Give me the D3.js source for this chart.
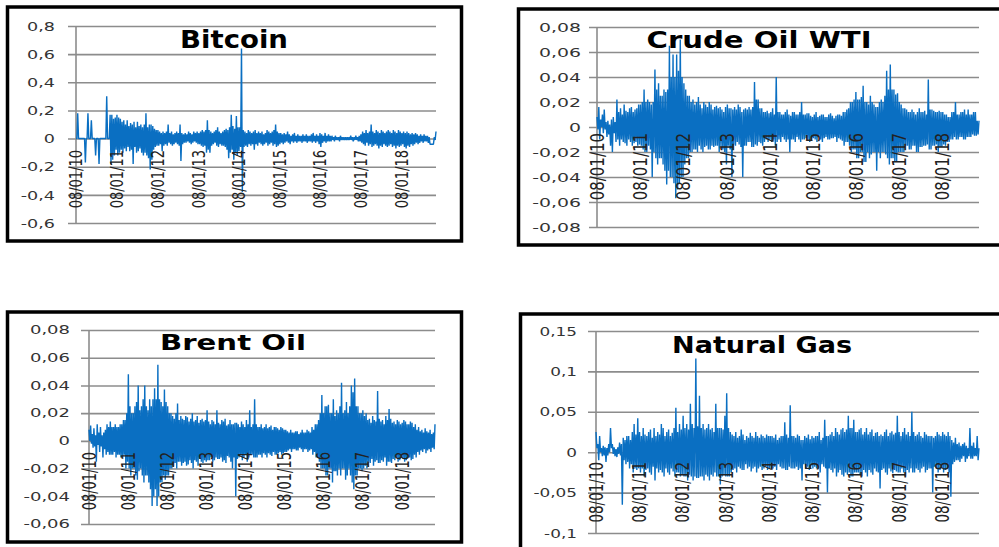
<!DOCTYPE html>
<html>
<head>
<meta charset="utf-8">
<script src="https://cdn.jsdelivr.net/npm/d3@7"></script>
<style>
  body { margin: 0; background: #fff; }
  svg { display: block; }
</style>
</head>
<body>
<svg id="chart" width="999" height="547"></svg>
<script>
// Daily returns, summarised per half-month as the highest and lowest return
// of the period, 08/01/2010 to late 2018
const startDate = new Date(2010, 0, 8);
const endDate = new Date(2018, 10, 15);
const yearTicks = d3.range(2010, 2019).map(y => new Date(y, 0, 8));

const bitcoinHigh = [
  0, 0.18, 0, 0, 0, 0, 0, 0.18, 0, 0.13, 0, 0, 0, 0, 0, 0, 0, 0, 0.30, 0, 0.17, 0.17, 0.14, 0.15,
  0.17, 0.15, 0.14, 0.12, 0.13, 0.1, 0.13, 0.09, 0.11, 0.1, 0.12, 0.08, 0.12, 0.09, 0.1, 0.08, 0.1, 0.18, 0.08, 0.1, 0.1, 0.09, 0.07, 0.06,
  0.06, 0.05, 0.04, 0.05, 0.04, 0.05, 0.1, 0.04, 0.05, 0.03, 0.04, 0.05, 0.04, 0.1, 0.04, 0.03, 0.04, 0.03, 0.05, 0.04, 0.03, 0.05, 0.04, 0.05,
  0.04, 0.05, 0.06, 0.05, 0.06, 0.13, 0.06, 0.05, 0.04, 0.05, 0.06, 0.08, 0.05, 0.04, 0.05, 0.06, 0.07, 0.06, 0.08, 0.17, 0.09, 0.07, 0.16, 0.08,
  0.08, 0.64, 0.06, 0.05, 0.04, 0.06, 0.05, 0.04, 0.05, 0.06, 0.04, 0.05, 0.04, 0.05, 0.03, 0.04, 0.06, 0.05, 0.04, 0.05, 0.06, 0.1, 0.05, 0.04,
  0.04, 0.03, 0.04, 0.03, 0.05, 0.03, 0.02, 0.03, 0.04, 0.02, 0.03, 0.02, 0.02, 0.03, 0.02, 0.03, 0.02, 0.02, 0.03, 0.04, 0.02, 0.03, 0.02, 0.04,
  0.03, 0.02, 0.04, 0.02, 0.03, 0.02, 0.02, 0.01, 0.02, 0.01, 0.01, 0.02, 0.01, 0.01, 0.01, 0.01, 0.01, 0.02, 0.01, 0.01, 0.02, 0.01, 0.02, 0.03,
  0.05, 0.04, 0.06, 0.04, 0.05, 0.1, 0.05, 0.04, 0.06, 0.05, 0.04, 0.06, 0.05, 0.04, 0.05, 0.06, 0.05, 0.04, 0.06, 0.05, 0.04, 0.06, 0.05, 0.04,
  0.05, 0.04, 0.05, 0.04, 0.03, 0.04, 0.03, 0.04, 0.03, 0.02, 0.03, 0.02, 0.03, 0.02, 0.02, 0.01, -0.04, -0.04, 0.01, 0.05
];
const bitcoinLow = [
  0, 0, 0, 0, 0, -0.17, 0, 0, 0, 0, 0, -0.12, 0, -0.18, 0, 0, 0, 0, 0, 0, -0.18, -0.15, -0.12, -0.08,
  -0.12, -0.1, -0.08, -0.1, -0.07, -0.09, -0.06, -0.09, -0.08, -0.18, -0.06, -0.1, -0.09, -0.07, -0.1, -0.12, -0.1, -0.12, -0.14, -0.22, -0.15, -0.08, -0.06, -0.05,
  -0.05, -0.04, -0.09, -0.05, -0.04, -0.05, -0.03, -0.04, -0.05, -0.04, -0.03, -0.04, -0.05, -0.16, -0.04, -0.03, -0.03, -0.02, -0.03, -0.04, -0.03, -0.02, -0.03, -0.04,
  -0.04, -0.05, -0.06, -0.05, -0.1, -0.08, -0.1, -0.05, -0.04, -0.03, -0.05, -0.06, -0.04, -0.05, -0.05, -0.06, -0.08, -0.14, -0.1, -0.08, -0.15, -0.1, -0.12, -0.09,
  -0.06, -0.38, -0.06, -0.05, -0.06, -0.04, -0.05, -0.04, -0.08, -0.04, -0.05, -0.03, -0.04, -0.05, -0.04, -0.03, -0.05, -0.04, -0.03, -0.05, -0.04, -0.06, -0.05, -0.04,
  -0.03, -0.04, -0.03, -0.02, -0.03, -0.04, -0.02, -0.03, -0.02, -0.03, -0.02, -0.02, -0.03, -0.02, -0.02, -0.03, -0.02, -0.02, -0.03, -0.02, -0.03, -0.02, -0.04, -0.06,
  -0.03, -0.02, -0.03, -0.02, -0.02, -0.02, -0.01, -0.02, -0.01, -0.01, -0.02, -0.01, -0.01, -0.01, -0.01, -0.01, -0.01, -0.01, -0.02, -0.01, -0.01, -0.02, -0.02, -0.03,
  -0.04, -0.05, -0.03, -0.05, -0.04, -0.06, -0.05, -0.04, -0.05, -0.07, -0.05, -0.06, -0.04, -0.05, -0.06, -0.05, -0.04, -0.06, -0.05, -0.07, -0.05, -0.06, -0.05, -0.04,
  -0.06, -0.07, -0.05, -0.06, -0.04, -0.05, -0.04, -0.03, -0.04, -0.03, -0.02, -0.03, -0.02, -0.02, -0.03, -0.04, -0.04, -0.04, -0.01, 0
];

const wtiHigh = [
  0.008, 0.016, 0.006, 0.01, 0.014, 0.004, 0.005, 0.002, 0.006, 0.008, 0.004, 0.022, 0.012, 0.015, 0.01, 0.018, 0.013, 0.012, 0.015, 0.016, 0.012, 0.014, 0.015, 0.018,
  0.018, 0.02, 0.03, 0.02, 0.022, 0.02, 0.018, 0.02, 0.046, 0.03, 0.035, 0.025, 0.025, 0.03, 0.028, 0.03, 0.065, 0.04, 0.058, 0.04, 0.058, 0.045, 0.07, 0.04,
  0.035, 0.03, 0.025, 0.025, 0.02, 0.022, 0.018, 0.02, 0.024, 0.018, 0.015, 0.02, 0.018, 0.016, 0.02, 0.018, 0.014, 0.016, 0.017, 0.015, 0.016, 0.014, 0.012, 0.016,
  0.018, 0.015, 0.015, 0.014, 0.016, 0.014, 0.018, 0.016, 0.012, 0.014, 0.015, 0.014, 0.016, 0.014, 0.016, 0.036, 0.022, 0.022, 0.015, 0.015, 0.012, 0.012, 0.013, 0.011,
  0.012, 0.015, 0.01, 0.04, 0.012, 0.012, 0.01, 0.01, 0.012, 0.014, 0.01, 0.009, 0.012, 0.012, 0.01, 0.01, 0.012, 0.02, 0.01, 0.01, 0.011, 0.011, 0.009, 0.008,
  0.01, 0.012, 0.008, 0.009, 0.01, 0.01, 0.008, 0.008, 0.01, 0.011, 0.009, 0.007, 0.009, 0.01, 0.01, 0.009, 0.012, 0.012, 0.014, 0.015, 0.02, 0.02, 0.022, 0.028,
  0.022, 0.022, 0.024, 0.033, 0.02, 0.02, 0.018, 0.025, 0.02, 0.018, 0.016, 0.016, 0.02, 0.022, 0.02, 0.025, 0.045, 0.03, 0.05, 0.03, 0.03, 0.026, 0.027, 0.02,
  0.018, 0.015, 0.015, 0.014, 0.012, 0.012, 0.014, 0.012, 0.01, 0.012, 0.015, 0.012, 0.012, 0.013, 0.01, 0.038, 0.014, 0.014, 0.013, 0.012, 0.012, 0.013, 0.012, 0.012,
  0.01, 0.01, 0.008, 0.008, 0.012, 0.012, 0.02, 0.01, 0.01, 0.012, 0.012, 0.014, 0.01, 0.014, 0.01, 0.01, 0.012, 0.012, 0.005, 0.005
];
const wtiLow = [
  -0.002, -0.01, 0, -0.005, -0.002, -0.008, -0.006, -0.015, -0.02, -0.005, -0.012, -0.01, -0.015, -0.01, -0.012, -0.013, -0.015, -0.01, -0.012, -0.015, -0.013, -0.012, -0.015, -0.014,
  -0.015, -0.018, -0.02, -0.02, -0.015, -0.018, -0.04, -0.02, -0.025, -0.03, -0.025, -0.025, -0.03, -0.035, -0.046, -0.035, -0.04, -0.04, -0.045, -0.057, -0.05, -0.045, -0.04, -0.04,
  -0.03, -0.025, -0.025, -0.02, -0.02, -0.018, -0.018, -0.02, -0.015, -0.018, -0.02, -0.016, -0.015, -0.018, -0.018, -0.015, -0.016, -0.015, -0.015, -0.02, -0.016, -0.018, -0.02, -0.03,
  -0.015, -0.018, -0.04, -0.014, -0.015, -0.012, -0.014, -0.016, -0.04, -0.015, -0.015, -0.012, -0.012, -0.016, -0.016, -0.014, -0.015, -0.012, -0.013, -0.015, -0.012, -0.01, -0.012, -0.01,
  -0.012, -0.01, -0.015, -0.012, -0.01, -0.012, -0.008, -0.01, -0.012, -0.01, -0.02, -0.01, -0.01, -0.012, -0.008, -0.01, -0.012, -0.01, -0.01, -0.009, -0.01, -0.012, -0.01, -0.009,
  -0.01, -0.012, -0.008, -0.01, -0.012, -0.009, -0.008, -0.01, -0.01, -0.009, -0.009, -0.008, -0.012, -0.009, -0.01, -0.011, -0.015, -0.012, -0.012, -0.015, -0.02, -0.018, -0.018, -0.025,
  -0.025, -0.02, -0.02, -0.028, -0.028, -0.02, -0.025, -0.022, -0.02, -0.02, -0.035, -0.02, -0.025, -0.02, -0.02, -0.022, -0.025, -0.03, -0.025, -0.025, -0.028, -0.028, -0.02, -0.02,
  -0.02, -0.02, -0.015, -0.015, -0.018, -0.018, -0.015, -0.015, -0.02, -0.02, -0.016, -0.016, -0.015, -0.015, -0.014, -0.018, -0.018, -0.015, -0.015, -0.014, -0.02, -0.016, -0.016, -0.014,
  -0.015, -0.012, -0.012, -0.01, -0.01, -0.008, -0.01, -0.01, -0.008, -0.008, -0.01, -0.01, -0.008, -0.008, -0.008, -0.006, -0.007, -0.007, -0.006, -0.005
];

const brentHigh = [
  0.008, 0.011, 0.005, 0.009, 0.004, 0.012, 0.006, 0.01, 0.004, 0.006, 0.008, 0.012, 0.01, 0.014, 0.01, 0.01, 0.012, 0.01, 0.01, 0.012, 0.012, 0.015, 0.015, 0.02,
  0.048, 0.025, 0.02, 0.02, 0.025, 0.028, 0.04, 0.022, 0.025, 0.03, 0.04, 0.025, 0.022, 0.03, 0.025, 0.03, 0.038, 0.03, 0.055, 0.03, 0.028, 0.025, 0.037, 0.028,
  0.025, 0.02, 0.02, 0.018, 0.016, 0.02, 0.027, 0.015, 0.018, 0.016, 0.015, 0.018, 0.017, 0.014, 0.016, 0.02, 0.014, 0.015, 0.018, 0.013, 0.015, 0.016, 0.014, 0.015,
  0.022, 0.014, 0.012, 0.015, 0.014, 0.012, 0.022, 0.013, 0.012, 0.015, 0.014, 0.016, 0.011, 0.012, 0.015, 0.012, 0.012, 0.013, 0.013, 0.012, 0.01, 0.014, 0.012, 0.01,
  0.015, 0.012, 0.022, 0.01, 0.012, 0.03, 0.012, 0.01, 0.01, 0.012, 0.009, 0.01, 0.012, 0.009, 0.01, 0.011, 0.008, 0.01, 0.01, 0.009, 0.008, 0.01, 0.009, 0.008,
  0.008, 0.007, 0.006, 0.008, 0.006, 0.006, 0.007, 0.007, 0.005, 0.006, 0.008, 0.006, 0.006, 0.008, 0.007, 0.006, 0.01, 0.008, 0.012, 0.012, 0.015, 0.02, 0.033, 0.02,
  0.025, 0.025, 0.026, 0.02, 0.02, 0.03, 0.018, 0.022, 0.02, 0.025, 0.042, 0.02, 0.022, 0.028, 0.02, 0.025, 0.04, 0.035, 0.045, 0.025, 0.025, 0.02, 0.02, 0.022,
  0.018, 0.02, 0.015, 0.016, 0.013, 0.018, 0.015, 0.014, 0.036, 0.016, 0.014, 0.015, 0.012, 0.018, 0.015, 0.023, 0.016, 0.013, 0.014, 0.012, 0.015, 0.014, 0.012, 0.013,
  0.015, 0.014, 0.012, 0.012, 0.014, 0.013, 0.01, 0.012, 0.008, 0.01, 0.007, 0.008, 0.006, 0.009, 0.007, 0.006, 0.008, 0.005, 0.006, 0.012
];
const brentLow = [
  0, -0.002, -0.005, -0.004, -0.015, -0.003, -0.008, -0.004, -0.012, -0.006, -0.01, -0.008, -0.01, -0.01, -0.01, -0.008, -0.012, -0.01, -0.01, -0.012, -0.012, -0.01, -0.02, -0.015,
  -0.02, -0.025, -0.02, -0.02, -0.025, -0.028, -0.022, -0.02, -0.025, -0.03, -0.025, -0.025, -0.03, -0.035, -0.047, -0.04, -0.035, -0.047, -0.04, -0.03, -0.03, -0.025, -0.028, -0.025,
  -0.025, -0.02, -0.02, -0.018, -0.016, -0.02, -0.015, -0.015, -0.018, -0.016, -0.015, -0.018, -0.017, -0.014, -0.016, -0.02, -0.014, -0.015, -0.018, -0.013, -0.015, -0.016, -0.014, -0.015,
  -0.014, -0.014, -0.012, -0.015, -0.014, -0.012, -0.013, -0.013, -0.012, -0.015, -0.014, -0.016, -0.011, -0.012, -0.015, -0.02, -0.012, -0.04, -0.013, -0.012, -0.01, -0.014, -0.012, -0.01,
  -0.015, -0.012, -0.01, -0.01, -0.012, -0.012, -0.012, -0.01, -0.01, -0.012, -0.009, -0.01, -0.012, -0.009, -0.01, -0.011, -0.008, -0.01, -0.01, -0.009, -0.008, -0.01, -0.009, -0.008,
  -0.008, -0.007, -0.006, -0.008, -0.006, -0.006, -0.007, -0.007, -0.005, -0.006, -0.008, -0.006, -0.006, -0.008, -0.007, -0.006, -0.01, -0.008, -0.012, -0.012, -0.015, -0.02, -0.02, -0.02,
  -0.025, -0.025, -0.02, -0.02, -0.03, -0.022, -0.022, -0.025, -0.02, -0.025, -0.02, -0.02, -0.028, -0.025, -0.02, -0.025, -0.03, -0.035, -0.025, -0.025, -0.02, -0.02, -0.022, -0.02,
  -0.018, -0.02, -0.015, -0.016, -0.013, -0.018, -0.015, -0.014, -0.016, -0.016, -0.014, -0.015, -0.012, -0.018, -0.015, -0.015, -0.016, -0.013, -0.014, -0.012, -0.015, -0.014, -0.012, -0.013,
  -0.015, -0.014, -0.012, -0.012, -0.014, -0.013, -0.01, -0.012, -0.008, -0.01, -0.007, -0.008, -0.006, -0.009, -0.007, -0.006, -0.008, -0.005, -0.006, -0.004
];

const gasHigh = [
  0.025, 0.01, 0.02, 0.005, 0.008, 0.006, 0.005, 0.01, 0.03, 0.01, 0.006, 0.004, 0.006, 0.012, 0.01, 0.018, 0.015, 0.02, 0.02, 0.015, 0.025, 0.035, 0.022, 0.042,
  0.025, 0.02, 0.03, 0.022, 0.02, 0.025, 0.028, 0.018, 0.03, 0.02, 0.025, 0.022, 0.035, 0.03, 0.02, 0.025, 0.028, 0.02, 0.024, 0.03, 0.055, 0.025, 0.035, 0.028,
  0.045, 0.03, 0.035, 0.028, 0.06, 0.035, 0.03, 0.116, 0.032, 0.07, 0.03, 0.035, 0.028, 0.03, 0.035, 0.028, 0.03, 0.025, 0.06, 0.03, 0.03, 0.03, 0.028, 0.045,
  0.073, 0.03, 0.025, 0.022, 0.02, 0.025, 0.018, 0.02, 0.028, 0.022, 0.015, 0.02, 0.018, 0.024, 0.02, 0.018, 0.025, 0.02, 0.018, 0.022, 0.02, 0.018, 0.022, 0.02,
  0.02, 0.02, 0.018, 0.022, 0.015, 0.018, 0.02, 0.02, 0.037, 0.022, 0.018, 0.058, 0.02, 0.02, 0.018, 0.022, 0.02, 0.015, 0.015, 0.02, 0.018, 0.022, 0.016, 0.02,
  0.018, 0.02, 0.02, 0.025, 0.015, 0.018, 0.04, 0.02, 0.02, 0.022, 0.025, 0.02, 0.03, 0.025, 0.022, 0.028, 0.03, 0.025, 0.028, 0.045, 0.03, 0.03, 0.04, 0.025,
  0.025, 0.028, 0.03, 0.022, 0.025, 0.03, 0.022, 0.025, 0.028, 0.02, 0.024, 0.025, 0.02, 0.022, 0.02, 0.025, 0.028, 0.02, 0.024, 0.026, 0.022, 0.024, 0.045, 0.025,
  0.02, 0.025, 0.03, 0.022, 0.025, 0.02, 0.05, 0.025, 0.02, 0.022, 0.025, 0.02, 0.018, 0.025, 0.022, 0.02, 0.02, 0.02, 0.018, 0.02, 0.025, 0.022, 0.02, 0.025,
  0.022, 0.02, 0.025, 0.02, 0.015, 0.012, 0.018, 0.01, 0.012, 0.008, 0.01, 0.012, 0.008, 0.005, 0.03, 0.008, 0.012, 0.005, 0.02, 0.005
];
const gasLow = [
  0.005, -0.01, 0, -0.005, -0.004, -0.012, -0.004, 0, 0.005, -0.002, -0.005, -0.006, -0.002, -0.004, -0.065, -0.01, -0.015, -0.012, -0.02, -0.015, -0.025, -0.02, -0.022, -0.02,
  -0.025, -0.02, -0.03, -0.022, -0.02, -0.025, -0.028, -0.018, -0.035, -0.02, -0.025, -0.022, -0.025, -0.03, -0.02, -0.025, -0.028, -0.02, -0.024, -0.03, -0.025, -0.025, -0.03, -0.028,
  -0.03, -0.03, -0.035, -0.028, -0.03, -0.035, -0.03, -0.032, -0.032, -0.03, -0.03, -0.035, -0.028, -0.03, -0.035, -0.028, -0.03, -0.025, -0.03, -0.03, -0.04, -0.03, -0.028, -0.03,
  -0.03, -0.03, -0.025, -0.022, -0.02, -0.025, -0.018, -0.02, -0.022, -0.022, -0.015, -0.02, -0.018, -0.024, -0.02, -0.018, -0.025, -0.02, -0.018, -0.022, -0.02, -0.018, -0.022, -0.02,
  -0.02, -0.02, -0.018, -0.022, -0.015, -0.018, -0.02, -0.02, -0.022, -0.022, -0.018, -0.02, -0.02, -0.02, -0.018, -0.022, -0.02, -0.035, -0.015, -0.02, -0.018, -0.022, -0.016, -0.02,
  -0.018, -0.02, -0.02, -0.025, -0.015, -0.018, -0.02, -0.05, -0.02, -0.022, -0.025, -0.02, -0.03, -0.025, -0.022, -0.028, -0.03, -0.025, -0.028, -0.025, -0.03, -0.03, -0.025, -0.025,
  -0.025, -0.028, -0.03, -0.022, -0.025, -0.03, -0.022, -0.025, -0.028, -0.02, -0.024, -0.025, -0.045, -0.022, -0.02, -0.025, -0.028, -0.02, -0.024, -0.026, -0.022, -0.024, -0.025, -0.025,
  -0.02, -0.025, -0.03, -0.022, -0.025, -0.02, -0.025, -0.025, -0.02, -0.022, -0.025, -0.02, -0.018, -0.025, -0.022, -0.02, -0.02, -0.05, -0.018, -0.02, -0.025, -0.022, -0.02, -0.025,
  -0.022, -0.02, -0.025, -0.055, -0.015, -0.012, -0.01, -0.01, -0.012, -0.008, -0.005, -0.012, -0.008, -0.005, -0.008, -0.008, -0.005, -0.005, -0.01, -0.005
];

// Y-axis ticks and their labels (decimal comma)
const bitcoinTicks = [-0.6, -0.4, -0.2, 0, 0.2, 0.4, 0.6, 0.8];
const bitcoinTickLabels = ["-0,6", "-0,4", "-0,2", "0", "0,2", "0,4", "0,6", "0,8"];
const wtiTicks = [-0.08, -0.06, -0.04, -0.02, 0, 0.02, 0.04, 0.06, 0.08];
const wtiTickLabels = ["-0,08", "-0,06", "-0,04", "-0,02", "0", "0,02", "0,04", "0,06", "0,08"];
const brentTicks = [-0.06, -0.04, -0.02, 0, 0.02, 0.04, 0.06, 0.08];
const brentTickLabels = ["-0,06", "-0,04", "-0,02", "0", "0,02", "0,04", "0,06", "0,08"];
const gasTicks = [-0.1, -0.05, 0, 0.05, 0.1, 0.15];
const gasTickLabels = ["-0,1", "-0,05", "0", "0,05", "0,1", "0,15"];

const titles = ["Bitcoin", "Crude Oil WTI", "Brent Oil", "Natural Gas"];

// Panel layout
const layouts = [
  { frame: [7.5, 7, 454, 234], x0: 76, x1: 436, yTop: 26, yBot: 223,
    titleX: 234, titleY: 48, titleSize: 25, titleLen: 108,
    yLabX: 55, yFont: 13, ySx: 1.35, xLabTop: 150, xFont: 13, xSx: 1.38 },
  { frame: [518.5, 9, 500, 236], x0: 597, x1: 979, yTop: 27, yBot: 227,
    titleX: 759, titleY: 48, titleSize: 23.5, titleLen: 225,
    yLabX: 581, yFont: 13, ySx: 1.45, xLabTop: 133, xFont: 15, xSx: 1.3 },
  { frame: [7.5, 312, 454, 230], x0: 89, x1: 435, yTop: 330, yBot: 524,
    titleX: 233, titleY: 350, titleSize: 22, titleLen: 146,
    yLabX: 70, yFont: 12, ySx: 1.5, xLabTop: 452, xFont: 13, xSx: 1.45 },
  { frame: [520.5, 314, 500, 260], x0: 596, x1: 979, yTop: 331, yBot: 533,
    titleX: 762, titleY: 353, titleSize: 23, titleLen: 180,
    yLabX: 577, yFont: 12.5, ySx: 1.35, xLabTop: 462, xFont: 13.5, xSx: 1.4 }
];

const highList = [bitcoinHigh, wtiHigh, brentHigh, gasHigh];
const lowList = [bitcoinLow, wtiLow, brentLow, gasLow];
const tickList = [bitcoinTicks, wtiTicks, brentTicks, gasTicks];
const tickLabelList = [bitcoinTickLabels, wtiTickLabels, brentTickLabels, gasTickLabels];

const svg = d3.select("#chart");
const fmtDate = d3.timeFormat("%d/%m/%y");

layouts.forEach((L, p) => {
  const highs = highList[p];
  const lows = lowList[p];
  const ticks = tickList[p];
  const tickLabels = tickLabelList[p];
  const g = svg.append("g");

  const x = d3.scaleTime().domain([startDate, endDate]).range([L.x0, L.x1]);
  const y = d3.scaleLinear().domain([ticks[0], ticks[ticks.length - 1]]).range([L.yBot, L.yTop]);

  // each half-month contributes its high and then its low to the line
  const span = endDate - startDate;
  const step = span / (highs.length - 1);
  const data = [];
  highs.forEach((h, i) => {
    const t = +startDate + step * i;
    data.push({ date: new Date(t), value: h });
    if (i < highs.length - 1) data.push({ date: new Date(t + step / 2), value: lows[i] });
  });

  // outer frame
  g.append("rect")
    .attr("x", L.frame[0]).attr("y", L.frame[1])
    .attr("width", L.frame[2]).attr("height", L.frame[3])
    .attr("fill", "none").attr("stroke", "#000").attr("stroke-width", 3.5);

  // horizontal gridlines with small outer tick marks
  const yAxis = d3.axisLeft(y).tickValues(ticks).tickSize(-(L.x1 - L.x0) - 8).tickFormat("");
  const yg = g.append("g").attr("transform", `translate(${L.x0 - 8},0)`).call(yAxis);
  yg.select(".domain").remove();
  yg.selectAll(".tick line").attr("stroke", "#8c8c8c").attr("stroke-width", 1.6);

  // vertical axis line
  g.append("line")
    .attr("x1", L.x0).attr("x2", L.x0)
    .attr("y1", y(ticks[0])).attr("y2", y(ticks[ticks.length - 1]))
    .attr("stroke", "#8c8c8c").attr("stroke-width", 1.6);

  // return series
  const line = d3.line().x(d => x(d.date)).y(d => y(d.value));
  g.append("path")
    .datum(data)
    .attr("d", line)
    .attr("fill", "none")
    .attr("stroke", "#0a6fc2")
    .attr("stroke-width", 1.4)
    .attr("stroke-linejoin", "bevel");

  // y tick labels
  ticks.forEach((t, i) => {
    g.append("text")
      .attr("transform", `translate(${L.yLabX},${y(t)}) scale(${L.ySx},1)`)
      .attr("text-anchor", "end")
      .attr("dy", "0.36em")
      .attr("font-family", "DejaVu Sans, sans-serif")
      .attr("font-size", L.yFont)
      .attr("fill", "#333")
      .text(tickLabels[i]);
  });

  // rotated date labels along the zero line
  yearTicks.forEach(d => {
    g.append("text")
      .attr("transform", `translate(${x(d)},${L.xLabTop}) scale(${L.xSx},1) rotate(-90)`)
      .attr("text-anchor", "end")
      .attr("dy", "0.36em")
      .attr("font-family", "DejaVu Sans, sans-serif")
      .attr("font-size", L.xFont)
      .attr("fill", "#222")
      .text(fmtDate(d));
  });

  // title
  g.append("text")
    .attr("x", L.titleX).attr("y", L.titleY)
    .attr("text-anchor", "middle")
    .attr("font-family", "DejaVu Sans, sans-serif")
    .attr("font-weight", "bold")
    .attr("font-size", L.titleSize)
    .attr("textLength", L.titleLen)
    .attr("lengthAdjust", "spacingAndGlyphs")
    .attr("fill", "#000")
    .text(titles[p]);
});
</script>
</body>
</html>
